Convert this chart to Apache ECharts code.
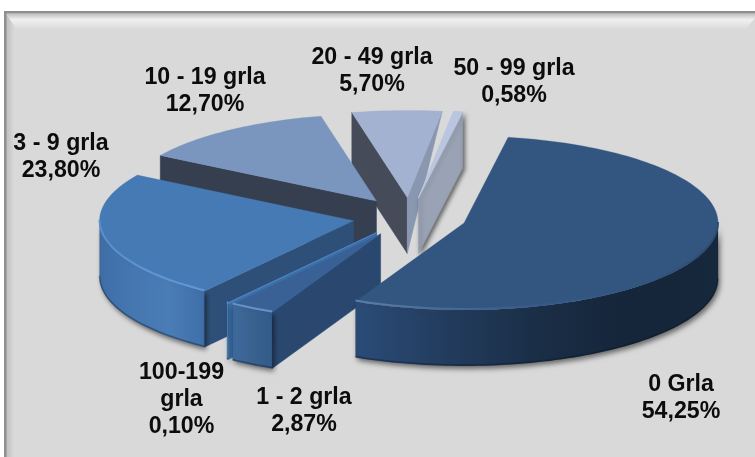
<!DOCTYPE html>
<html>
<head>
<meta charset="utf-8">
<style>html,body{margin:0;padding:0;background:#fff}#c{width:755px;height:457px}</style>
<script src="https://cdn.jsdelivr.net/npm/echarts@6/dist/echarts.min.js"></script>
</head>
<body>
<div id="c"></div>
<script>
// ---- data, in the chart's clockwise order ----
const categories = ['0 Grla', '1 - 2 grla', '100-199\ngrla', '3 - 9 grla', '10 - 19 grla', '20 - 49 grla', '50 - 99 grla'];
const shares = [54.25, 2.87, 0.10, 23.80, 12.70, 5.70, 0.58];

// ---- layout of the tilted pie ----
const pie = { cx: 409.6, cy: 217, rx: 254, ry: 87, depth: 56, explode: 0.225, startDeg: 10 };
const paintOrder = [5, 6, 4, 3, 2, 1, 0];
const labelCentres = [[681, 398], [304, 411], [181.5, 400], [61, 157], [205, 91], [372, 71], [514, 82]];

// ---- slice styles, same order as categories ----
const grad = (x0, x1, stops) => new echarts.graphic.LinearGradient(x0, 0, x1, 0,
  stops.map((c, i) => ({ offset: i / (stops.length - 1), color: c })), true);
const sliceStyles = [
  { top: '#335680', start: '#2b4a72', end: '#2b4a72', rim: ['#2a4c78', '#233c5e', '#1a2e46', '#15253a', '#16283c'],
    bevel: ['#5f83ae', '#4a6d98', '#38598a', '#335680', '#2c4a6e'] },
  { top: '#3a6196', start: '#2a4770', end: '#2a4770', rim: ['#3e6a9e', '#39628f', '#335a8a'], bevel: ['#6c97ca', '#6c97ca'] },
  { top: '#4a80bd', start: '#3a6ea8', end: '#3a6ea8', rim: ['#4a80bd', '#4a80bd'], bevel: ['#5d92cd', '#5d92cd'] },
  { top: '#467ab5', start: '#2e5078', end: '#2e5078', rim: ['#3f6ea6', '#4677b1', '#4a7cb6', '#3f6fa8'],
    bevel: ['#5b90ce', '#6098d8', '#6499d8'] },
  { top: '#7a96bf', start: '#363f50', end: '#363f50', rim: ['#5f7aa2', '#5f7aa2'] },
  { top: '#a2b2d0', start: '#454b59', end: '#8a97b1', rim: ['#8a97b1', '#8a97b1'], taperEnd: true },
  { top: '#b9c6df', start: '#9aa3b5', end: '#9aa3b5', rim: ['#9aa3b5', '#9aa3b5'], wallShadow: true }
];

const rad = d => d * Math.PI / 180;
const starts = [];
shares.reduce((s, v, i) => { starts[i] = s; return s + v; }, 0);
const pt = (c, deg, dy) => [c[0] + pie.rx * Math.sin(rad(deg)), c[1] - pie.ry * Math.cos(rad(deg)) + (dy || 0)];
const arc = (c, a0, a1, dy) => {
  const n = Math.max(2, Math.ceil(Math.abs(a1 - a0) / 1.5)), out = [];
  for (let i = 0; i <= n; i++) out.push(pt(c, a0 + (a1 - a0) * i / n, dy));
  return out;
};

function renderSlice(params, api) {
  const idx = api.value(0), value = api.value(1), startShare = api.value(2);
  const st = sliceStyles[idx];
  const a0 = pie.startDeg + startShare * 3.6, a1 = a0 + value * 3.6, mid = (a0 + a1) / 2;
  const c = [pie.cx + pie.explode * pie.rx * Math.sin(rad(mid)), pie.cy - pie.explode * pie.ry * Math.cos(rad(mid))];
  const d = pie.depth, kids = [];
  const poly = (points, style) => kids.push({ type: 'polygon', shape: { points }, style });
  const norm = a => ((a % 360) + 360) % 360;
  const na0 = norm(a0), na1 = norm(a1);

  // curved outer wall on the front half (a slice that wraps past 0 deg sits at the back)
  const wraps = na0 > na1;
  const f0 = Math.max(na0, 90), f1 = Math.min(na1, 270);
  const hasFront = !wraps && f1 > f0;

  // flat radial walls that face the viewer
  if (na0 > 180) {
    const o = pt(c, a0);
    poly([c, o, [o[0], o[1] + d], [c[0], c[1] + d]], { fill: st.start, stroke: st.start, lineWidth: 0.5 });
  }
  if (na1 < 180) {
    const o = pt(c, a1);
    const shape = st.taperEnd ? [c, o, [c[0], c[1] + d]] : [c, o, [o[0], o[1] + d], [c[0], c[1] + d]];
    const s = { fill: st.end, stroke: st.end, lineWidth: 0.5 };
    if (st.wallShadow) { s.shadowBlur = 4; s.shadowOffsetX = 2; s.shadowOffsetY = 2; s.shadowColor = 'rgba(0,0,0,0.55)'; }
    poly(shape, s);
  }
  if (hasFront) {
    const upper = arc(c, f0, f1), lower = arc(c, f1, f0, d);
    const xs = upper.map(p => p[0]), xMin = Math.min(...xs), xMax = Math.max(...xs);
    poly(upper.concat(lower), {
      fill: grad(xMin, xMax, st.rim), stroke: 'rgba(0,0,0,0.15)', lineWidth: 0.5,
      shadowBlur: 5, shadowOffsetX: 2, shadowOffsetY: 3, shadowColor: 'rgba(0,0,0,0.5)'
    });
    // darker foot of the wall
    kids.push({ type: 'polyline', shape: { points: arc(c, f0, f1, d - 1) },
      style: { fill: null, lineWidth: 1.5, stroke: 'rgba(10,20,35,0.35)' } });
  }
  // top face
  poly([c].concat(arc(c, a0, a1)), { fill: st.top, stroke: st.top, lineWidth: value < 1 ? 1 : 0.3 });
  // light rim along the front of the top face
  if (st.bevel && hasFront) {
    const rim = arc(c, f0, f1, -1);
    const xs = rim.map(p => p[0]);
    const xMin = Math.min(...xs), xMax = Math.max(...xs);
    kids.push({ type: 'polyline', shape: { points: rim },
      style: { fill: null, lineWidth: 2, stroke: grad(xMin, xMax, st.bevel), opacity: 0.9 } });
  }
  return { type: 'group', children: kids };
}

const pctLabel = v => v.toFixed(2).replace('.', ',') + '%';
const labels = categories.map((name, i) => ({
  type: 'text', x: labelCentres[i][0], y: labelCentres[i][1],
  style: {
    text: name + '\n' + pctLabel(shares[i]), align: 'center', verticalAlign: 'middle',
    font: 'bold 23.2px "Liberation Sans", Arial, sans-serif', lineHeight: 27, fill: '#0c0c0c'
  }
}));

const hGrad = (x0, x1, c0, c1) => new echarts.graphic.LinearGradient(x0, 0, x1, 0, [{ offset: 0, color: c0 }, { offset: 1, color: c1 }], true);
const vGrad = (stops, y0, y1) => new echarts.graphic.LinearGradient(0, y0, 0, y1, stops, true);

const backdrop = [
  { type: 'rect', shape: { x: 4, y: 11, width: 751, height: 446 }, style: { fill: '#d9d9d9' } },
  { type: 'polygon', shape: { points: [[6, 14], [755, 14], [755, 18], [745, 30], [17, 30]] },
    style: { fill: vGrad([{ offset: 0, color: '#c2c2c2' }, { offset: 0.35, color: '#f0f0f0' }, { offset: 1, color: '#d9d9d9' }], 14, 30) } },
  { type: 'polygon', shape: { points: [[6, 14], [17, 30], [17, 457], [6, 457]] },
    style: { fill: hGrad(6, 14, '#bdbdbd', '#d9d9d9') } },
  { type: 'rect', shape: { x: 4, y: 11, width: 751, height: 2.5 }, style: { fill: '#8f8f8f' } },
  { type: 'rect', shape: { x: 4, y: 11, width: 2.5, height: 446 }, style: { fill: '#8f8f8f' } }
];

const chart = echarts.init(document.getElementById('c'), null, { renderer: 'canvas' });
chart.setOption({
  animation: false,
  backgroundColor: '#ffffff',
  graphic: { elements: backdrop.concat(labels).map(e => Object.assign({ silent: true }, e)) },
  series: [{
    type: 'custom',
    coordinateSystem: 'none',
    silent: true,
    renderItem: renderSlice,
    data: paintOrder.map(i => [i, shares[i], starts[i]])
  }]
});
</script>
</body>
</html>
